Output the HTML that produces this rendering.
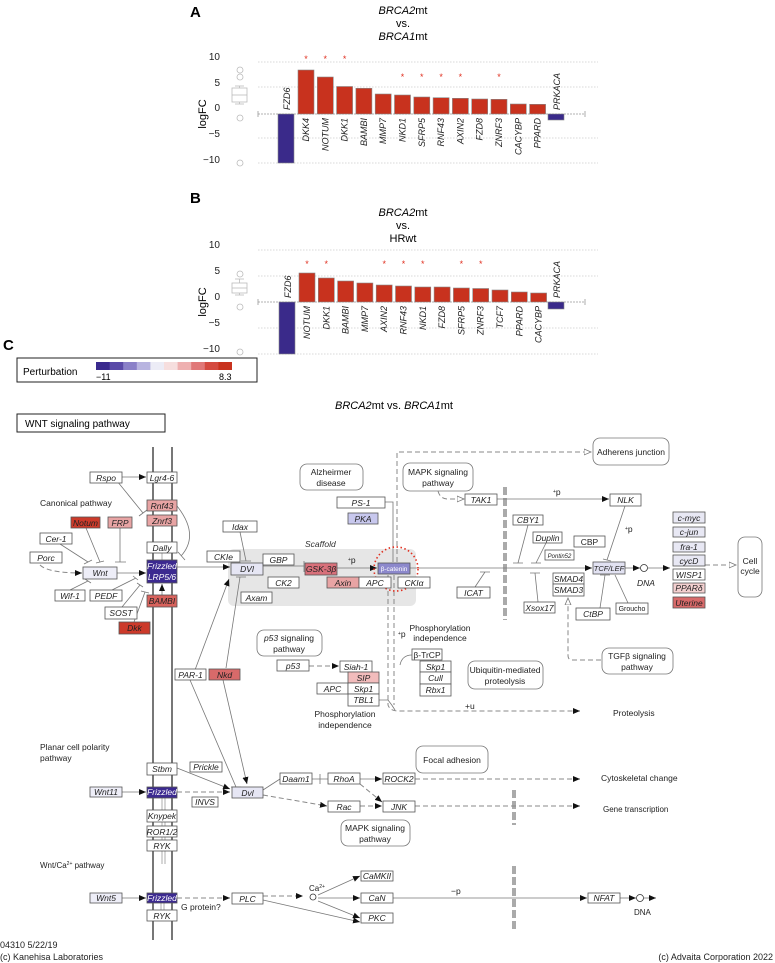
<!DOCTYPE html>
<html><head><meta charset="utf-8"><style>
html,body{margin:0;padding:0;background:#fff}
svg{display:block;font-family:"Liberation Sans",sans-serif}
.n rect{fill:#fff;stroke:#555;stroke-width:.8}
.n text,.t{font-size:8.5px;font-style:italic;text-anchor:middle;fill:#222}
.l{stroke:#777;stroke-width:.8;fill:none}
.d{stroke:#888;stroke-width:1;fill:none;stroke-dasharray:5,3}
.r{fill:#fff;stroke:#777;stroke-width:.8}
.p{font-size:8.5px;text-anchor:middle;fill:#222}
.g{stroke:#ccc;stroke-width:.7;stroke-dasharray:1.5,1.5}
.lab{font-size:9px;font-style:italic;fill:#222}
.ast{font-size:9px;fill:#e03020;text-anchor:middle}
.bar{stroke:#888;stroke-width:.6}
</style></head><body>
<svg width="775" height="963" viewBox="0 0 775 963">
<defs>
<marker id="a" markerWidth="8" markerHeight="8" refX="7" refY="4" orient="auto" markerUnits="userSpaceOnUse"><path d="M0,1 L7,4 L0,7z" fill="#111"/></marker>
<marker id="o" markerWidth="8" markerHeight="8" refX="7" refY="4" orient="auto" markerUnits="userSpaceOnUse"><path d="M0,1 L7,4 L0,7z" fill="#fff" stroke="#777" stroke-width=".8"/></marker>
</defs>

<!-- ===== Panel A ===== -->
<text x="190" y="17" font-size="15" font-weight="bold">A</text>
<text x="403" y="14" font-size="11" text-anchor="middle"><tspan font-style="italic">BRCA2</tspan>mt</text>
<text x="403" y="27" font-size="11" text-anchor="middle">vs.</text>
<text x="403" y="40" font-size="11" text-anchor="middle"><tspan font-style="italic">BRCA1</tspan>mt</text>
<g class="g"><line x1="258" y1="62" x2="598" y2="62"/><line x1="258" y1="87" x2="598" y2="87"/><line x1="258" y1="138" x2="598" y2="138"/><line x1="258" y1="163" x2="598" y2="163"/></g>
<line x1="258" y1="114" x2="585" y2="114" stroke="#999" stroke-width=".8" stroke-dasharray="2,1"/>
<line x1="258" y1="111" x2="258" y2="117" stroke="#999" stroke-width=".8"/><line x1="585" y1="111" x2="585" y2="117" stroke="#999" stroke-width=".8"/>
<g font-size="10" text-anchor="end" fill="#222"><text x="220" y="60">10</text><text x="220" y="86">5</text><text x="220" y="111">0</text><text x="220" y="137">−5</text><text x="220" y="163">−10</text></g>
<text transform="translate(206,114) rotate(-90)" font-size="11" text-anchor="middle">logFC</text>
<g stroke="#bbb" fill="none" stroke-width=".8"><rect x="232" y="88" width="15" height="14"/><line x1="232" y1="95" x2="247" y2="95"/><line x1="239.5" y1="86" x2="239.5" y2="88"/><line x1="235" y1="86" x2="244" y2="86"/><line x1="239.5" y1="102" x2="239.5" y2="104"/><line x1="235" y1="104" x2="244" y2="104"/><circle cx="240" cy="70" r="3"/><circle cx="240" cy="77" r="3"/><circle cx="240" cy="118" r="3"/><circle cx="240" cy="163" r="3"/></g>
<rect class="bar" x="278" y="114" width="16" height="49" fill="#3a2a8a"/>
<g fill="#c8321e" class="bar">
<rect x="298" y="70" width="16" height="44"/><rect x="317.3" y="77" width="16" height="37"/><rect x="336.6" y="86.5" width="16" height="27.5"/><rect x="355.9" y="88.3" width="16" height="25.7"/><rect x="375.2" y="94" width="16" height="20"/><rect x="394.5" y="95" width="16" height="19"/><rect x="413.8" y="97" width="16" height="17"/><rect x="433.1" y="97.7" width="16" height="16.3"/><rect x="452.4" y="98.3" width="16" height="15.7"/><rect x="471.7" y="99" width="16" height="15"/><rect x="491" y="99.3" width="16" height="14.7"/><rect x="510.3" y="104" width="16" height="10"/><rect x="529.6" y="104.3" width="16" height="9.7"/>
</g>
<rect class="bar" x="548" y="114" width="16" height="6" fill="#3a2a8a"/>
<g class="lab" text-anchor="end">
<text transform="translate(309,118) rotate(-90)">DKK4</text><text transform="translate(328.3,118) rotate(-90)">NOTUM</text><text transform="translate(347.6,118) rotate(-90)">DKK1</text><text transform="translate(366.9,118) rotate(-90)">BAMBI</text><text transform="translate(386.2,118) rotate(-90)">MMP7</text><text transform="translate(405.5,118) rotate(-90)">NKD1</text><text transform="translate(424.8,118) rotate(-90)">SFRP5</text><text transform="translate(444.1,118) rotate(-90)">RNF43</text><text transform="translate(463.4,118) rotate(-90)">AXIN2</text><text transform="translate(482.7,118) rotate(-90)">FZD8</text><text transform="translate(502,118) rotate(-90)">ZNRF3</text><text transform="translate(521.3,118) rotate(-90)">CACYBP</text><text transform="translate(540.6,118) rotate(-90)">PPARD</text>
</g>
<text class="lab" transform="translate(290,110) rotate(-90)">FZD6</text>
<text class="lab" transform="translate(560,110) rotate(-90)">PRKACA</text>
<g class="ast"><text x="306" y="62">*</text><text x="325.3" y="62">*</text><text x="344.6" y="62">*</text><text x="402.5" y="80">*</text><text x="421.8" y="80">*</text><text x="441.1" y="80">*</text><text x="460.4" y="80">*</text><text x="499" y="80">*</text></g>

<!-- ===== Panel B ===== -->
<text x="190" y="203" font-size="15" font-weight="bold">B</text>
<text x="403" y="216" font-size="11" text-anchor="middle"><tspan font-style="italic">BRCA2</tspan>mt</text>
<text x="403" y="229" font-size="11" text-anchor="middle">vs.</text>
<text x="403" y="242" font-size="11" text-anchor="middle">HRwt</text>
<g class="g"><line x1="258" y1="250" x2="598" y2="250"/><line x1="258" y1="276" x2="598" y2="276"/><line x1="258" y1="328" x2="598" y2="328"/><line x1="258" y1="354" x2="598" y2="354"/></g>
<line x1="258" y1="302" x2="585" y2="302" stroke="#999" stroke-width=".8" stroke-dasharray="2,1"/>
<line x1="258" y1="299" x2="258" y2="305" stroke="#999" stroke-width=".8"/><line x1="585" y1="299" x2="585" y2="305" stroke="#999" stroke-width=".8"/>
<g font-size="10" text-anchor="end" fill="#222"><text x="220" y="248">10</text><text x="220" y="274">5</text><text x="220" y="300">0</text><text x="220" y="326">−5</text><text x="220" y="352">−10</text></g>
<text transform="translate(206,302) rotate(-90)" font-size="11" text-anchor="middle">logFC</text>
<g stroke="#bbb" fill="none" stroke-width=".8"><rect x="232" y="283" width="15" height="10"/><line x1="232" y1="288" x2="247" y2="288"/><line x1="239.5" y1="279" x2="239.5" y2="283"/><line x1="235" y1="279" x2="244" y2="279"/><line x1="239.5" y1="293" x2="239.5" y2="295"/><line x1="235" y1="295" x2="244" y2="295"/><circle cx="240" cy="274" r="3"/><circle cx="240" cy="307" r="3"/><circle cx="240" cy="352" r="3"/></g>
<rect class="bar" x="279" y="302" width="16" height="52" fill="#3a2a8a"/>
<g fill="#c8321e" class="bar">
<rect x="299" y="273" width="16" height="29"/><rect x="318.3" y="278" width="16" height="24"/><rect x="337.6" y="281" width="16" height="21"/><rect x="356.9" y="283" width="16" height="19"/><rect x="376.2" y="285" width="16" height="17"/><rect x="395.5" y="286" width="16" height="16"/><rect x="414.8" y="287" width="16" height="15"/><rect x="434.1" y="287" width="16" height="15"/><rect x="453.4" y="288" width="16" height="14"/><rect x="472.7" y="288.5" width="16" height="13.5"/><rect x="492" y="290" width="16" height="12"/><rect x="511.3" y="292" width="16" height="10"/><rect x="530.6" y="293" width="16" height="9"/>
</g>
<rect class="bar" x="548" y="302" width="16" height="7" fill="#3a2a8a"/>
<g class="lab" text-anchor="end">
<text transform="translate(310,306) rotate(-90)">NOTUM</text><text transform="translate(329.3,306) rotate(-90)">DKK1</text><text transform="translate(348.6,306) rotate(-90)">BAMBI</text><text transform="translate(367.9,306) rotate(-90)">MMP7</text><text transform="translate(387.2,306) rotate(-90)">AXIN2</text><text transform="translate(406.5,306) rotate(-90)">RNF43</text><text transform="translate(425.8,306) rotate(-90)">NKD1</text><text transform="translate(445.1,306) rotate(-90)">FZD8</text><text transform="translate(464.4,306) rotate(-90)">SFRP5</text><text transform="translate(483.7,306) rotate(-90)">ZNRF3</text><text transform="translate(503,306) rotate(-90)">TCF7</text><text transform="translate(522.3,306) rotate(-90)">PPARD</text><text transform="translate(541.6,306) rotate(-90)">CACYBP</text>
</g>
<text class="lab" transform="translate(291,298) rotate(-90)">FZD6</text>
<text class="lab" transform="translate(560,298) rotate(-90)">PRKACA</text>
<g class="ast"><text x="307" y="267">*</text><text x="326.3" y="267">*</text><text x="384.2" y="267">*</text><text x="403.5" y="267">*</text><text x="422.8" y="267">*</text><text x="461.4" y="267">*</text><text x="480.7" y="267">*</text></g>

<!-- ===== Panel C ===== -->
<text x="3" y="350" font-size="15" font-weight="bold">C</text>
<rect x="17" y="358" width="240" height="24" fill="#fff" stroke="#222" stroke-width="1"/>
<text x="23" y="375" font-size="10">Perturbation</text>
<g>
<rect x="96" y="362" width="14" height="8" fill="#3a2a8e"/><rect x="109.6" y="362" width="14" height="8" fill="#5a4aa8"/><rect x="123.2" y="362" width="14" height="8" fill="#8a80c8"/><rect x="136.8" y="362" width="14" height="8" fill="#b8b4e0"/><rect x="150.4" y="362" width="14" height="8" fill="#ececf6"/><rect x="164" y="362" width="14" height="8" fill="#f6dede"/><rect x="177.6" y="362" width="14" height="8" fill="#eeb0b0"/><rect x="191.2" y="362" width="14" height="8" fill="#e07878"/><rect x="204.8" y="362" width="14" height="8" fill="#d44a40"/><rect x="218.4" y="362" width="13.6" height="8" fill="#c8321e"/>
</g>
<text x="96" y="380" font-size="9">−11</text><text x="219" y="380" font-size="9">8.3</text>
<rect x="17" y="414" width="148" height="18" fill="#fff" stroke="#222" stroke-width="1"/>
<text x="25" y="427" font-size="10">WNT signaling pathway</text>
<text x="394" y="409" font-size="11" text-anchor="middle"><tspan font-style="italic">BRCA2</tspan>mt vs. <tspan font-style="italic">BRCA1</tspan>mt</text>

<!-- membranes -->
<g stroke="#777" stroke-width="2"><line x1="153" y1="447" x2="153" y2="940"/><line x1="172" y1="447" x2="172" y2="940"/></g>
<g stroke="#999" stroke-width=".8"><line x1="162" y1="553" x2="162" y2="560"/><line x1="162" y1="798" x2="162" y2="864"/><line x1="165" y1="798" x2="165" y2="864"/><line x1="161" y1="903" x2="161" y2="910"/><line x1="164" y1="903" x2="164" y2="910"/></g>

<!-- scaffold -->
<rect x="228" y="549" width="188" height="57" rx="6" fill="#e6e6e6"/>
<text x="305" y="547" font-size="8.5" font-style="italic" fill="#333">Scaffold</text>

<!-- text labels -->
<g font-size="8.5" fill="#222">
<text x="40" y="506">Canonical pathway</text>
<text x="40" y="750">Planar cell polarity</text><text x="40" y="761">pathway</text>
<text x="40" y="868" font-size="8">Wnt/Ca<tspan font-size="5" dy="-3">2+</tspan><tspan dy="3"> pathway</tspan></text>
<text x="181" y="910">G protein?</text>
<text x="613" y="716">Proteolysis</text>
<text x="601" y="781">Cytoskeletal change</text>
<text x="603" y="812" font-size="8">Gene transcription</text>
<text x="345" y="717" text-anchor="middle">Phosphorylation</text><text x="345" y="728" text-anchor="middle">independence</text>
<text x="440" y="631" text-anchor="middle">Phosphorylation</text><text x="440" y="641" text-anchor="middle">independence</text>
<text x="398" y="637"><tspan font-size="5" dy="-2">+</tspan><tspan dy="2">p</tspan></text>
<text x="348" y="563"><tspan font-size="5" dy="-2">+</tspan><tspan dy="2">p</tspan></text>
<text x="553" y="495"><tspan font-size="5" dy="-2">+</tspan><tspan dy="2">p</tspan></text>
<text x="625" y="532"><tspan font-size="5" dy="-2">+</tspan><tspan dy="2">p</tspan></text>
<text x="465" y="709">+u</text>
<text x="451" y="894">−p</text>
<text x="637" y="586" font-style="italic">DNA</text>
<text x="634" y="915" font-size="8">DNA</text>
<text x="309" y="891" font-size="8">Ca<tspan font-size="5" dy="-3">2+</tspan></text>
</g>

<!-- rounded pathway boxes -->
<g>
<rect class="r" x="300" y="464" width="63" height="26" rx="7"/><text class="p" x="331" y="475">Alzheirmer</text><text class="p" x="331" y="486">disease</text>
<rect class="r" x="593" y="438" width="76" height="27" rx="7"/><text class="p" x="631" y="455">Adherens junction</text>
<rect class="r" x="403" y="463" width="70" height="28" rx="7"/><text class="p" x="438" y="475">MAPK signaling</text><text class="p" x="438" y="486">pathway</text>
<rect class="r" x="738" y="537" width="24" height="60" rx="7"/><text class="p" x="750" y="564">Cell</text><text class="p" x="750" y="574">cycle</text>
<rect class="r" x="602" y="648" width="71" height="26" rx="7"/><text class="p" x="637" y="659">TGFβ signaling</text><text class="p" x="637" y="670">pathway</text>
<rect class="r" x="468" y="661" width="75" height="28" rx="7"/><text class="p" x="505" y="673">Ubiquitin-mediated</text><text class="p" x="505" y="684">proteolysis</text>
<rect class="r" x="257" y="630" width="65" height="26" rx="7"/><text class="p" x="289" y="641"><tspan font-style="italic">p53</tspan> signaling</text><text class="p" x="289" y="652">pathway</text>
<rect class="r" x="416" y="746" width="72" height="27" rx="7"/><text class="p" x="452" y="763">Focal adhesion</text>
<rect class="r" x="341" y="820" width="69" height="26" rx="7"/><text class="p" x="375" y="831" font-size="8">MAPK signaling</text><text class="p" x="375" y="842" font-size="8">pathway</text>
</g>

<!-- gray dashed bars -->
<g stroke="#aaa" stroke-width="4" stroke-dasharray="8,3"><line x1="505" y1="487" x2="505" y2="620"/><line x1="514" y1="790" x2="514" y2="825"/><line x1="514" y1="866" x2="514" y2="930"/></g>

<!-- connectors -->
<g class="l">
<line x1="122" y1="477" x2="146" y2="477" marker-end="url(#a)"/>
<path d="M117,481 L143,513 M139,516 L147,510"/>
<path d="M177,506 Q200,535 181,556 M178,552 L185,560"/>
<path d="M60,544 L88,562 M84,564 L92,560"/>
<path d="M86,528 L100,562 M96,563 L104,561"/>
<path d="M120,528 L120,562 M115,562 L126,562"/>
<line x1="117" y1="573" x2="146" y2="573" marker-end="url(#a)"/>
<path d="M70,590 L88,581 M85,579 L91,583"/>
<path d="M112,590 L136,578 M133,576 L138,580"/>
<path d="M122,607 L140,585 M137,583 L143,587"/>
<path d="M134,622 L145,592 M141,591 L149,593"/>
<line x1="162" y1="595" x2="162" y2="584" marker-end="url(#a)"/>
<line x1="177" y1="567" x2="230" y2="567" marker-end="url(#a)"/>
<path d="M240,532 L246,561 M241,561 L251,561"/>
<path d="M263,566 L304,566 M304,561 L304,572"/>
<line x1="337" y1="568" x2="377" y2="568" marker-end="url(#a)"/>
<line x1="410" y1="568" x2="592" y2="568" marker-end="url(#a)"/>
<line x1="625" y1="568" x2="640" y2="568" marker-end="url(#a)"/>
<line x1="648" y1="568" x2="670" y2="568" marker-end="url(#a)"/>
<path d="M385,502 L393,502 L393,562"/>
<line x1="497" y1="499" x2="609" y2="499" marker-end="url(#a)"/>
<path d="M625,506 L607,560 M603,559 L611,561"/>
<path d="M528,525 L518,563 M513,563 L523,563"/>
<path d="M546,543 L536,563 M531,563 L541,563"/>
<path d="M538,602 L535,573 M530,573 L540,573"/>
<path d="M475,587 L485,572 M480,572 L490,572"/>
<path d="M600,608 L605,575 M600,575 L610,575"/>
<path d="M628,603 L615,575"/>
<path d="M195,670 L229,579" marker-end="url(#a)"/>
<path d="M190,680 L236,787 M231,787 L241,787"/>
<path d="M240,577 L226,668 M236,577 L246,577"/>
<path d="M223,680 L247,784" marker-end="url(#a)"/>
<path d="M177,768 L230,789" marker-end="url(#a)"/>
<line x1="122" y1="792" x2="146" y2="792" marker-end="url(#a)"/>
<path d="M263,790 L280,779"/>
<path d="M312,779 L328,779 M320,774 L320,784"/>
<line x1="360" y1="779" x2="382" y2="779" marker-end="url(#a)"/>
<line x1="122" y1="898" x2="146" y2="898" marker-end="url(#a)"/>
<path d="M263,900 L360,922" marker-end="url(#a)"/>
<path d="M318,895 L360,876" marker-end="url(#a)"/>
<line x1="318" y1="898" x2="360" y2="898" marker-end="url(#a)"/>
<path d="M318,901 L360,918" marker-end="url(#a)"/>
<line x1="393" y1="898" x2="587" y2="898" marker-end="url(#a)"/>
<line x1="620" y1="898" x2="636" y2="898" marker-end="url(#a)"/>
<line x1="644" y1="898" x2="656" y2="898" marker-end="url(#a)"/>
<path d="M379,700 L388,700 Q392,705 395,710"/>
<path d="M412,655 Q402,655 400,665"/>
</g>
<g class="d">
<path d="M40,565 Q48,573 82,573" marker-end="url(#a)"/>
<path d="M397,562 L397,452 L591,452" marker-end="url(#o)"/>
<path d="M388,575 L388,705 Q390,711 398,711 L580,711" marker-end="url(#a)"/>
<line x1="394" y1="575" x2="394" y2="705"/>
<path d="M438,491 Q440,499 448,499 L464,499" marker-end="url(#o)"/>
<line x1="705" y1="565" x2="736" y2="565" marker-end="url(#o)"/>
<path d="M601,660 L572,660 Q568,660 568,655 L568,598" marker-end="url(#o)"/>
<line x1="309" y1="666" x2="339" y2="666" marker-end="url(#a)"/>
<line x1="415" y1="779" x2="580" y2="779" marker-end="url(#a)"/>
<line x1="177" y1="792" x2="230" y2="792" marker-end="url(#a)"/>
<path d="M263,795 L327,806" marker-end="url(#a)"/>
<line x1="360" y1="806" x2="382" y2="806" marker-end="url(#a)"/>
<path d="M360,784 L382,802" marker-end="url(#a)"/>
<line x1="415" y1="806" x2="580" y2="806" marker-end="url(#a)"/>
<line x1="177" y1="898" x2="230" y2="898" marker-end="url(#a)"/>
<line x1="263" y1="896" x2="303" y2="896" marker-end="url(#a)"/>
</g>
<g fill="#fff" stroke="#333" stroke-width=".8"><circle cx="644" cy="568" r="3.5"/><circle cx="313" cy="897" r="3"/><circle cx="640" cy="898" r="3.5"/></g>
<circle cx="396" cy="569" r="22" fill="none" stroke="#e03020" stroke-width="1.6" stroke-dasharray="1.5,2.5"/>

<!-- nodes -->
<g class="n">
<rect x="90" y="472" width="32" height="11"/><text x="106" y="481">Rspo</text>
<rect x="147" y="472" width="30" height="11"/><text x="162" y="481">Lgr4-6</text>
<rect x="147" y="500" width="30" height="11" style="fill:#e8a4a4"/><text x="162" y="509">Rnf43</text>
<rect x="147" y="515" width="30" height="11" style="fill:#e8a4a4"/><text x="162" y="524">Znrf3</text>
<rect x="147" y="542" width="30" height="11"/><text x="162" y="551">Dally</text>
<rect x="147" y="560" width="30" height="23" style="fill:#3c2a90"/><text x="162" y="569" style="fill:#fff">Frizzled</text><text x="162" y="580" style="fill:#fff">LRP5/6</text>
<rect x="147" y="595" width="30" height="12" style="fill:#d8625c"/><text x="162" y="604">BAMBI</text>
<rect x="71" y="517" width="29" height="11" style="fill:#cc3a2a"/><text x="85.5" y="526">Notum</text>
<rect x="108" y="517" width="24" height="11" style="fill:#e8a4a4"/><text x="120" y="526">FRP</text>
<rect x="40" y="533" width="32" height="11"/><text x="56" y="542">Cer-1</text>
<rect x="30" y="552" width="32" height="11"/><text x="46" y="561">Porc</text>
<rect x="83" y="567" width="34" height="12" style="fill:#eeeef8"/><text x="100" y="576">Wnt</text>
<rect x="55" y="590" width="30" height="11"/><text x="70" y="599">Wif-1</text>
<rect x="90" y="590" width="32" height="11"/><text x="106" y="599">PEDF</text>
<rect x="105" y="607" width="32" height="12"/><text x="121" y="616">SOST</text>
<rect x="119" y="622" width="31" height="12" style="fill:#cc3a2a"/><text x="134.5" y="631">Dkk</text>
<rect x="223" y="521" width="34" height="11"/><text x="240" y="530">Idax</text>
<rect x="207" y="551" width="33" height="11"/><text x="223.5" y="560">CKIe</text>
<rect x="231" y="563" width="32" height="12" style="fill:#e6e6f4"/><text x="247" y="572">DVl</text>
<rect x="263" y="554" width="31" height="11"/><text x="278.5" y="563">GBP</text>
<rect x="268" y="577" width="31" height="11"/><text x="283.5" y="586">CK2</text>
<rect x="241" y="592" width="31" height="11"/><text x="256.5" y="601">Axam</text>
<rect x="305" y="563" width="32" height="12" style="fill:#d8707a"/><text x="321" y="572">GSK-3β</text>
<rect x="327" y="577" width="32" height="11" style="fill:#e8a4a4"/><text x="343" y="586">Axin</text>
<rect x="359" y="577" width="32" height="11"/><text x="375" y="586">APC</text>
<rect x="337" y="497" width="48" height="11"/><text x="361" y="506">PS-1</text>
<rect x="348" y="513" width="30" height="11" style="fill:#c8c8ee"/><text x="363" y="522">PKA</text>
<rect x="378" y="563" width="32" height="11" style="fill:#8c88cc"/><text x="394" y="571" style="fill:#fff;font-size:6.5px;font-style:normal">β-catenin</text>
<rect x="398" y="577" width="32" height="11"/><text x="414" y="586">CKIα</text>
<rect x="465" y="494" width="32" height="11"/><text x="481" y="503">TAK1</text>
<rect x="610" y="494" width="31" height="12"/><text x="625.5" y="503">NLK</text>
<rect x="513" y="515" width="30" height="10"/><text x="528" y="523">CBY1</text>
<rect x="533" y="532" width="29" height="11"/><text x="547.5" y="541">Duplin</text>
<rect x="574" y="536" width="31" height="11"/><text x="589.5" y="545" style="font-style:normal">CBP</text>
<rect x="545" y="550" width="29" height="10"/><text x="559.5" y="558" style="font-size:6px">Pontin52</text>
<rect x="593" y="562" width="32" height="12" style="fill:#e2e2f2"/><text x="609" y="571" style="font-size:7.5px">TCF/LEF</text>
<rect x="673" y="512" width="32" height="11" style="fill:#e8e8f4"/><text x="689" y="521">c-myc</text>
<rect x="673" y="527" width="32" height="10" style="fill:#e8e8f4"/><text x="689" y="535">c-jun</text>
<rect x="673" y="542" width="32" height="10" style="fill:#e8e8f4"/><text x="689" y="550">fra-1</text>
<rect x="673" y="555" width="32" height="11" style="fill:#e8e8f4"/><text x="689" y="564">cycD</text>
<rect x="673" y="569" width="32" height="11"/><text x="689" y="578">WISP1</text>
<rect x="673" y="583" width="32" height="10" style="fill:#f4d0d0"/><text x="689" y="591">PPARδ</text>
<rect x="673" y="597" width="32" height="11" style="fill:#d86a6a"/><text x="689" y="606">Uterine</text>
<rect x="553" y="573" width="31" height="11"/><text x="568.5" y="582">SMAD4</text>
<rect x="553" y="584" width="31" height="12"/><text x="568.5" y="593">SMAD3</text>
<rect x="457" y="587" width="33" height="11"/><text x="473.5" y="596">ICAT</text>
<rect x="524" y="602" width="31" height="11"/><text x="539.5" y="611">Xsox17</text>
<rect x="576" y="608" width="34" height="12"/><text x="593" y="617">CtBP</text>
<rect x="616" y="603" width="32" height="11"/><text x="632" y="611" style="font-size:7px;font-style:normal">Groucho</text>
<rect x="277" y="660" width="32" height="11"/><text x="293" y="669">p53</text>
<rect x="340" y="661" width="32" height="11"/><text x="356" y="670">Siah-1</text>
<rect x="348" y="672" width="31" height="11" style="fill:#f2bcbc"/><text x="363.5" y="681">SIP</text>
<rect x="317" y="683" width="31" height="11"/><text x="332.5" y="692">APC</text>
<rect x="348" y="683" width="31" height="11"/><text x="363.5" y="692">Skp1</text>
<rect x="348" y="694" width="31" height="12"/><text x="363.5" y="703">TBL1</text>
<rect x="412" y="649" width="30" height="11"/><text x="427" y="658" style="font-style:normal">β-TrCP</text>
<rect x="420" y="661" width="31" height="11"/><text x="435.5" y="670">Skp1</text>
<rect x="420" y="672" width="31" height="12"/><text x="435.5" y="681">Cull</text>
<rect x="420" y="684" width="31" height="12"/><text x="435.5" y="693">Rbx1</text>
<rect x="175" y="669" width="31" height="11"/><text x="190.5" y="678">PAR-1</text>
<rect x="209" y="669" width="31" height="11" style="fill:#d86a6a"/><text x="224.5" y="678">Nkd</text>
<rect x="147" y="763" width="30" height="12"/><text x="162" y="772">Stbm</text>
<rect x="190" y="762" width="32" height="10"/><text x="206" y="770">Prickle</text>
<rect x="90" y="787" width="32" height="10" style="fill:#eeeef8"/><text x="106" y="795">Wnt11</text>
<rect x="147" y="787" width="30" height="11" style="fill:#3c2a90"/><text x="162" y="795" style="fill:#fff">Frizzled</text>
<rect x="192" y="797" width="26" height="10"/><text x="205" y="805">INVS</text>
<rect x="232" y="787" width="31" height="11" style="fill:#e6e6f4"/><text x="247.5" y="796">Dvl</text>
<rect x="147" y="810" width="30" height="12"/><text x="162" y="819">Knypek</text>
<rect x="147" y="826" width="30" height="11"/><text x="162" y="835">ROR1/2</text>
<rect x="147" y="840" width="30" height="11"/><text x="162" y="849">RYK</text>
<rect x="280" y="773" width="32" height="11"/><text x="296" y="782">Daam1</text>
<rect x="328" y="773" width="32" height="11"/><text x="344" y="782">RhoA</text>
<rect x="383" y="773" width="32" height="11"/><text x="399" y="782">ROCK2</text>
<rect x="328" y="801" width="32" height="11"/><text x="344" y="810">Rac</text>
<rect x="383" y="801" width="32" height="11"/><text x="399" y="810">JNK</text>
<rect x="90" y="893" width="32" height="10" style="fill:#eeeef8"/><text x="106" y="901">Wnt5</text>
<rect x="147" y="893" width="30" height="10" style="fill:#3c2a90"/><text x="162" y="901" style="fill:#fff">Frizzled</text>
<rect x="147" y="910" width="30" height="11"/><text x="162" y="919">RYK</text>
<rect x="232" y="893" width="31" height="11"/><text x="247.5" y="902">PLC</text>
<rect x="361" y="871" width="32" height="10"/><text x="377" y="879">CaMKII</text>
<rect x="361" y="893" width="32" height="10"/><text x="377" y="901">CaN</text>
<rect x="361" y="913" width="32" height="10"/><text x="377" y="921">PKC</text>
<rect x="588" y="893" width="32" height="10"/><text x="604" y="901">NFAT</text>
</g>

<!-- footer -->
<g font-size="9" fill="#222">
<text x="0" y="948">04310 5/22/19</text>
<text x="0" y="960">(c) Kanehisa Laboratories</text>
<text x="773" y="960" text-anchor="end">(c) Advaita Corporation 2022</text>
</g>
</svg>
</body></html>
